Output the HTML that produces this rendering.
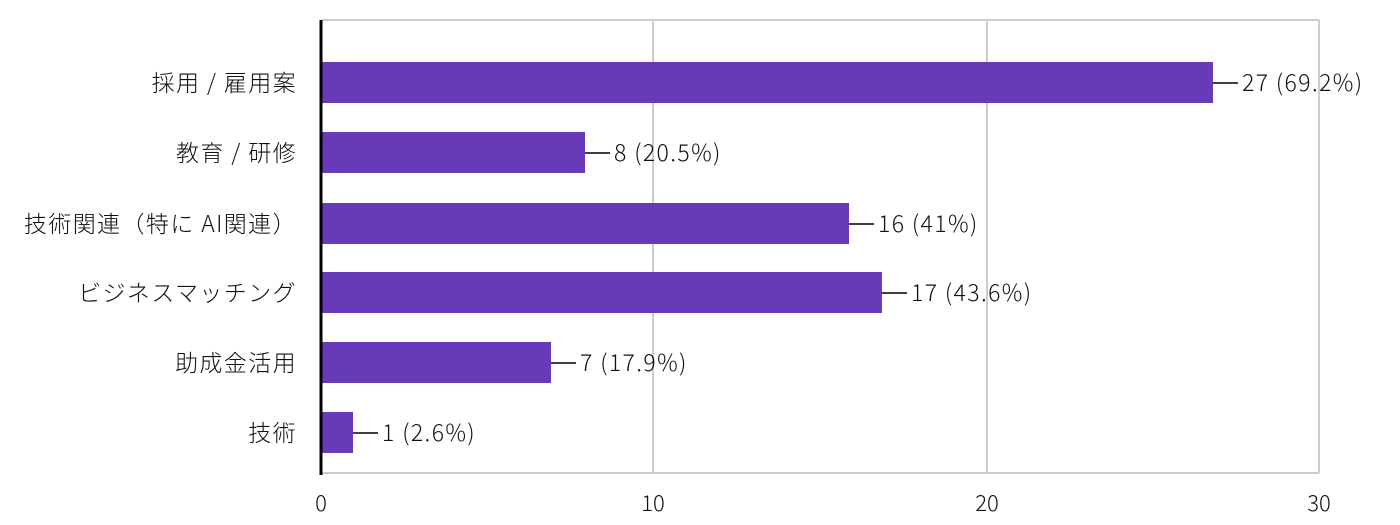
<!DOCTYPE html>
<html><head><meta charset="utf-8"><style>
body{margin:0;background:#fff;}
svg{display:block;font-family:"Noto Sans CJK JP","Liberation Sans",sans-serif;font-weight:300;}
</style></head><body>
<svg width="1400" height="525" xmlns="http://www.w3.org/2000/svg">
<rect width="1400" height="525" fill="#fff"/>
<g stroke="#cccccc" stroke-width="2" fill="none">
<line x1="653" y1="20" x2="653" y2="473"/>
<line x1="987" y1="20" x2="987" y2="473"/>
<line x1="1319" y1="20" x2="1319" y2="473"/>
<line x1="321" y1="20" x2="1319" y2="20"/>
<line x1="321" y1="473" x2="1319" y2="473"/>
</g>
<g fill="#673ab7">
<rect x="321" y="62" width="892" height="41"/>
<rect x="321" y="132" width="264" height="41"/>
<rect x="321" y="203" width="528" height="41"/>
<rect x="321" y="272" width="561" height="41"/>
<rect x="321" y="342" width="230" height="41"/>
<rect x="321" y="412" width="32" height="41"/>
</g>
<line x1="321" y1="20" x2="321" y2="475" stroke="#000" stroke-width="3"/>
<g stroke="#000" stroke-width="1.5">
<line x1="1213" y1="83" x2="1238" y2="83"/>
<line x1="585" y1="153" x2="610" y2="153"/>
<line x1="849" y1="224" x2="874" y2="224"/>
<line x1="882" y1="293" x2="907" y2="293"/>
<line x1="551" y1="363" x2="576" y2="363"/>
<line x1="353" y1="433" x2="378" y2="433"/>
</g>
<g font-size="23" fill="#111" letter-spacing="1.4">
<text x="1242" y="91">27 (69.2%)</text>
<text x="614" y="161">8 (20.5%)</text>
<text x="878" y="232">16 (41%)</text>
<text x="911" y="301">17 (43.6%)</text>
<text x="580" y="371">7 (17.9%)</text>
<text x="382" y="441">1 (2.6%)</text>
</g>
<g font-size="23" fill="#111" text-anchor="end" letter-spacing="1.4">
<text x="297" y="91">採用 / 雇用案</text>
<text x="297" y="161">教育 / 研修</text>
<text x="297" y="232">技術関連（特に AI関連）</text>
<text x="297" y="301">ビジネスマッチング</text>
<text x="297" y="371">助成金活用</text>
<text x="297" y="441">技術</text>
</g>
<g font-size="22" fill="#111" text-anchor="middle">
<text x="321" y="511">0</text>
<text x="653" y="511">10</text>
<text x="987" y="511">20</text>
<text x="1319" y="511">30</text>
</g>
</svg>
</body></html>
